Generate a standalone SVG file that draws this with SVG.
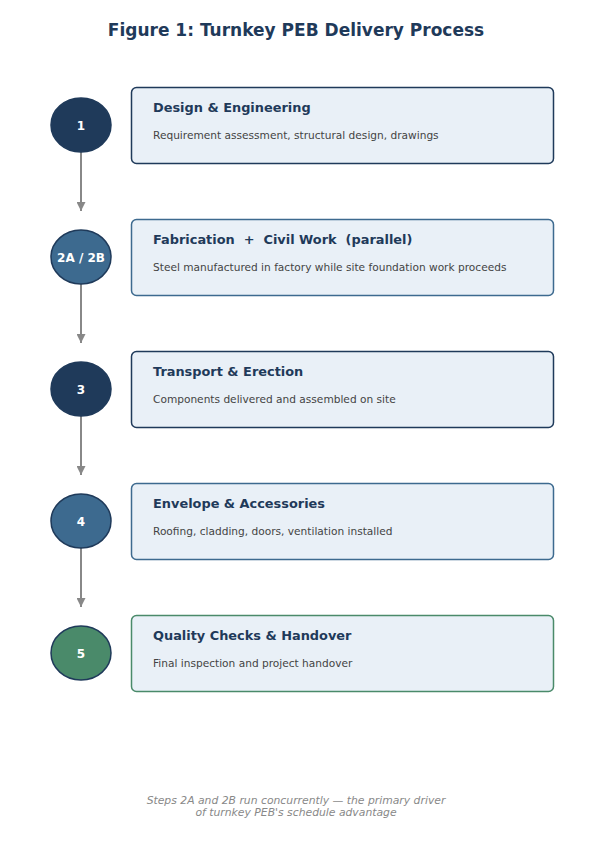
<svg xmlns="http://www.w3.org/2000/svg" width="592" height="857" viewBox="0 0 592 857">
<style>
.title{font-family:"DejaVu Sans",sans-serif;font-weight:bold;font-size:17px;fill:#1f3a5a}
.box{fill:#e9f0f7;stroke-width:1.5}
.h{font-family:"DejaVu Sans",sans-serif;font-weight:bold;font-size:12.9px;fill:#1f3a5a}
.d{font-family:"DejaVu Sans",sans-serif;font-size:10.6px;fill:#444}
.num{font-family:"DejaVu Sans",sans-serif;font-weight:bold;font-size:12px;fill:#fff}
.circ{stroke:#1f3a5a;stroke-width:1.5}
.conn{stroke:#888;stroke-width:2;fill:none}
.note{font-family:"DejaVu Sans",sans-serif;font-style:italic;font-size:10.8px;fill:#888}
</style>
<defs>
<marker id="ah" viewBox="0 0 10 10" refX="10" refY="5" markerWidth="4.5" markerHeight="4.5" orient="auto" markerUnits="strokeWidth">
<path d="M0,0 L10,5 L0,10 z" fill="#888"/>
</marker>
</defs>
<rect width="592" height="857" fill="#fff"/>
<text class="title" x="296" y="36" text-anchor="middle">Figure 1: Turnkey PEB Delivery Process</text>
<g id="connectors">
<line class="conn" x1="81" y1="152" x2="81" y2="211" marker-end="url(#ah)"/>
<line class="conn" x1="81" y1="284" x2="81" y2="343" marker-end="url(#ah)"/>
<line class="conn" x1="81" y1="416" x2="81" y2="475" marker-end="url(#ah)"/>
<line class="conn" x1="81" y1="548" x2="81" y2="607" marker-end="url(#ah)"/>
</g>
<g id="step1">
<ellipse class="circ" cx="81" cy="125" rx="30" ry="27" fill="#1f3a5a"/>
<text class="num" x="81" y="129.5" text-anchor="middle">1</text>
<rect class="box" x="131.5" y="87.5" width="422" height="76" rx="5" stroke="#1f3a5a"/>
<text class="h" x="153" y="112">Design &amp; Engineering</text>
<text class="d" x="153" y="139">Requirement assessment, structural design, drawings</text>
</g>
<g id="step2">
<ellipse class="circ" cx="81" cy="257" rx="30" ry="27" fill="#3d6a8f"/>
<text class="num" x="81" y="261.5" text-anchor="middle">2A / 2B</text>
<rect class="box" x="131.5" y="219.5" width="422" height="76" rx="5" stroke="#3d6a8f"/>
<text class="h" x="153" y="244" xml:space="preserve">Fabrication  +  Civil Work  (parallel)</text>
<text class="d" x="153" y="271">Steel manufactured in factory while site foundation work proceeds</text>
</g>
<g id="step3">
<ellipse class="circ" cx="81" cy="389" rx="30" ry="27" fill="#1f3a5a"/>
<text class="num" x="81" y="393.5" text-anchor="middle">3</text>
<rect class="box" x="131.5" y="351.5" width="422" height="76" rx="5" stroke="#1f3a5a"/>
<text class="h" x="153" y="376">Transport &amp; Erection</text>
<text class="d" x="153" y="403">Components delivered and assembled on site</text>
</g>
<g id="step4">
<ellipse class="circ" cx="81" cy="521" rx="30" ry="27" fill="#3d6a8f"/>
<text class="num" x="81" y="525.5" text-anchor="middle">4</text>
<rect class="box" x="131.5" y="483.5" width="422" height="76" rx="5" stroke="#3d6a8f"/>
<text class="h" x="153" y="508">Envelope &amp; Accessories</text>
<text class="d" x="153" y="535">Roofing, cladding, doors, ventilation installed</text>
</g>
<g id="step5">
<ellipse class="circ" cx="81" cy="653" rx="30" ry="27" fill="#4a8a6a"/>
<text class="num" x="81" y="657.5" text-anchor="middle">5</text>
<rect class="box" x="131.5" y="615.5" width="422" height="76" rx="5" stroke="#4a8a6a"/>
<text class="h" x="153" y="640">Quality Checks &amp; Handover</text>
<text class="d" x="153" y="667">Final inspection and project handover</text>
</g>
<text class="note" x="296" y="804" text-anchor="middle">Steps 2A and 2B run concurrently — the primary driver</text>
<text class="note" x="296" y="816" text-anchor="middle">of turnkey PEB's schedule advantage</text>
</svg>
